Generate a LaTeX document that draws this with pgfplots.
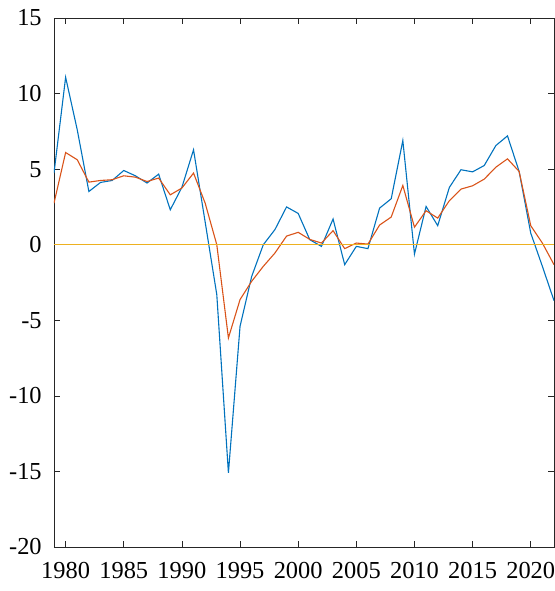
\documentclass[border=0pt]{standalone}
\usepackage{fontspec}
\setmainfont{Liberation Serif}
\usepackage{pgfplots}
\pgfplotsset{compat=1.18}
\usepackage{pgfplotstable}

\definecolor{mblue}{rgb}{0,0.447,0.741}
\definecolor{morange}{rgb}{0.850,0.325,0.098}
\definecolor{zerocol}{rgb}{0.929,0.694,0.125}

% growth rates per year
\pgfplotstableread{
year a b
1979 4.74 2.75
1980 11.08 6.10
1981 7.60 5.62
1982 3.52 4.14
1983 4.12 4.25
1984 4.25 4.30
1985 4.91 4.56
1986 4.56 4.47
1987 4.08 4.18
1988 4.67 4.41
1989 2.31 3.30
1990 3.80 3.75
1991 6.28 4.74
1992 1.50 2.75
1993 -3.30 0.00
1994 -15.10 -6.17
1995 -5.40 -3.63
1996 -2.10 -2.42
1997 0.00 -1.43
1998 1.00 -0.55
1999 2.50 0.57
2000 2.07 0.82
2001 0.33 0.35
2002 -0.11 0.11
2003 1.70 0.93
2004 -1.32 -0.26
2005 -0.11 0.11
2006 -0.26 0.04
2007 2.42 1.30
2008 3.04 1.83
2009 6.89 3.92
2010 -0.62 1.16
2011 2.53 2.25
2012 1.26 1.76
2013 3.79 2.91
2014 4.96 3.68
2015 4.82 3.90
2016 5.24 4.34
2017 6.56 5.13
2018 7.20 5.68
2019 4.85 4.85
2020 0.77 1.26
2021 -1.43 0.11
2022 -3.70 -1.32
}\growth

\begin{document}
\fontsize{24.5}{29}\selectfont
\begin{tikzpicture}
\begin{axis}[
  name=main,
  scale only axis,
  width=500bp, height=529bp,
  xmin=1979, xmax=2022,
  ymin=-20, ymax=15,
  xtick={1980,1985,...,2020},
  ytick={-20,-15,...,15},
  /pgf/number format/1000 sep={},
  /pgf/number format/assume math mode=true,
  tick label style={font=\fontsize{24.5}{29}\selectfont},
  tick align=inside,
  major tick length=6bp,
  axis line style={black!85, line width=0.7bp},
  every tick/.style={black!85, line width=0.7bp},
  xticklabel style={yshift=-7bp},
  yticklabel style={xshift=-4bp},
]
\addplot[mblue, line width=1.1bp] table[x=year, y=a] {\growth};
\addplot[morange, line width=1.1bp] table[x=year, y=b] {\growth};
\addplot[color=zerocol, line width=1.2bp] coordinates {(1979,0) (2022,0)};
\end{axis}
\pgfresetboundingbox
\path ([xshift=-54bp,yshift=-44bp]main.south west) rectangle ([xshift=1bp,yshift=18bp]main.north east);
\end{tikzpicture}
\end{document}
